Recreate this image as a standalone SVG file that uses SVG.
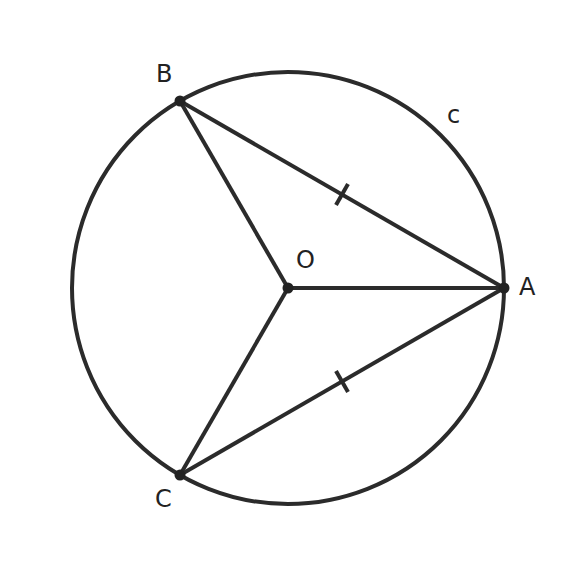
<svg xmlns="http://www.w3.org/2000/svg" width="576" height="576" viewBox="0 0 576 576">
<style>
.l{stroke:#2b2b2b;stroke-width:4;fill:none;stroke-linecap:butt}
.d{fill:#222}
text{font-family:"DejaVu Sans",sans-serif;font-size:24px;fill:#222}
</style>
<rect width="576" height="576" fill="#fff"/>
<g id="circle"><circle class="l" cx="288" cy="288" r="216"/></g>
<g id="connectors">
<line class="l" x1="288" y1="288" x2="504" y2="288"/>
<line class="l" x1="288" y1="288" x2="180" y2="101"/>
<line class="l" x1="288" y1="288" x2="180" y2="475"/>
<line class="l" x1="180" y1="101" x2="504" y2="288"/>
<line class="l" x1="180" y1="475" x2="504" y2="288"/>
<line class="l" x1="336" y1="205" x2="348" y2="184"/>
<line class="l" x1="336" y1="371" x2="348" y2="392"/>
</g>
<g id="O"><circle class="d" cx="288" cy="288" r="5.5"/><text x="296" y="268">O</text></g>
<g id="A"><circle class="d" cx="504" cy="288" r="5.5"/><text x="519" y="295">A</text></g>
<g id="B"><circle class="d" cx="180" cy="101" r="5.5"/><text x="156" y="82">B</text></g>
<g id="C"><circle class="d" cx="180" cy="475" r="5.5"/><text x="155" y="507">C</text></g>
<g id="c"><text x="447" y="123">c</text></g>
</svg>
